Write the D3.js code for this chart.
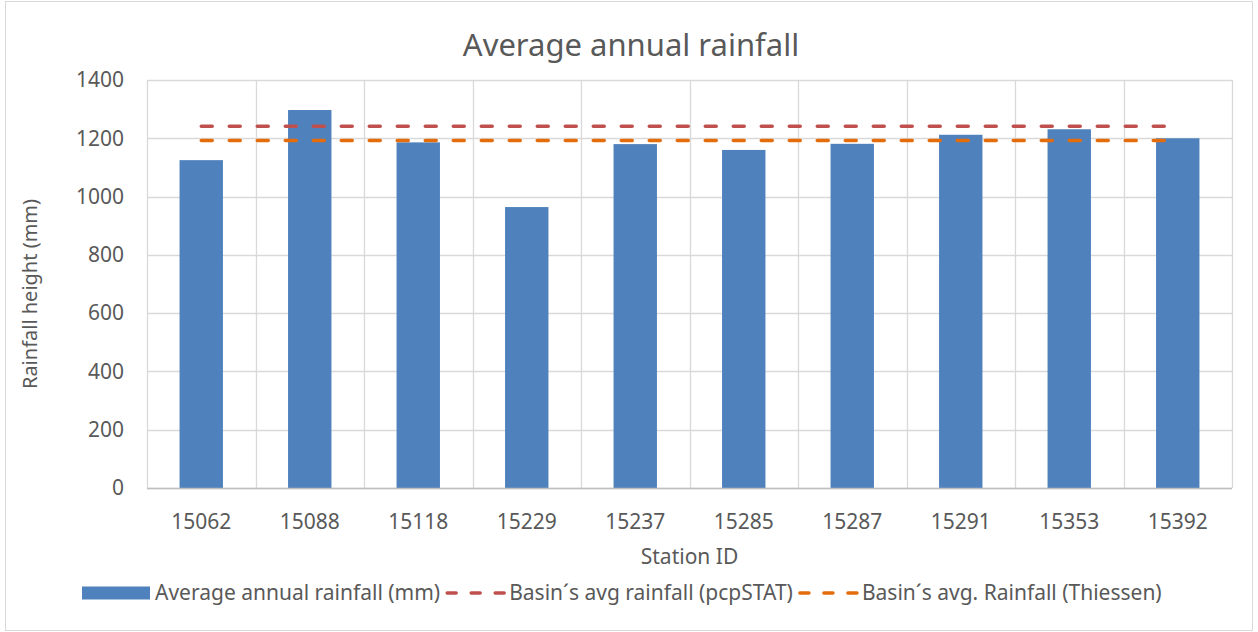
<!DOCTYPE html>
<html>
<head>
<meta charset="utf-8">
<script src="https://cdn.jsdelivr.net/npm/d3@7"></script>
<style>
  body { margin: 0; background: #fff; }
  text { font-family: "Noto Sans", sans-serif; fill: #595959; }
</style>
</head>
<body>
<div id="chart"></div>
<script>
// chart data
var stations = ["15062", "15088", "15118", "15229", "15237", "15285", "15287", "15291", "15353", "15392"];
var rainfall = [1125, 1297, 1186, 964, 1180, 1160, 1181, 1212, 1231, 1200];
var pcpStat = 1241;
var thiessen = 1192;
var yTicks = [0, 200, 400, 600, 800, 1000, 1200, 1400];
var seriesNames = ["Average annual rainfall (mm)", "Basin´s avg rainfall (pcpSTAT)", "Basin´s avg. Rainfall (Thiessen)"];

var svgWidth = 1258;
var svgHeight = 632;

var margin = { top: 80, right: 26, bottom: 144, left: 147 };
var width = svgWidth - margin.left - margin.right;
var height = svgHeight - margin.top - margin.bottom;

var colors = { bar: "#4F81BD", red: "#C0504D", orange: "#E46C0A", grid: "#D9D9D9" };

var svg = d3.select("#chart")
  .append("svg")
  .attr("width", svgWidth)
  .attr("height", svgHeight);

// outer chart border
svg.append("rect")
  .attr("x", 5.5).attr("y", 1.5)
  .attr("width", svgWidth - 11).attr("height", svgHeight - 3)
  .attr("fill", "#fff")
  .attr("stroke", colors.grid);

var chartGroup = svg.append("g")
  .attr("transform", `translate(${margin.left}, ${margin.top})`);

var x = d3.scaleBand()
  .domain(stations)
  .range([0, width])
  .paddingInner(0.6)
  .paddingOuter(0.3);

var y = d3.scaleLinear()
  .domain([0, 1400])
  .range([height, 0]);

// horizontal gridlines
chartGroup.append("g")
  .selectAll("line")
  .data(yTicks)
  .enter()
  .append("line")
  .attr("x1", 0).attr("x2", width)
  .attr("y1", d => Math.round(y(d)) + 0.5)
  .attr("y2", d => Math.round(y(d)) + 0.5)
  .attr("stroke", colors.grid)
  .attr("stroke-width", 1.3);

// vertical gridlines at category boundaries
var bounds = d3.range(stations.length + 1);
chartGroup.append("g")
  .selectAll("line")
  .data(bounds)
  .enter()
  .append("line")
  .attr("x1", d => Math.round(d * width / stations.length) + 0.5)
  .attr("x2", d => Math.round(d * width / stations.length) + 0.5)
  .attr("y1", 0).attr("y2", height)
  .attr("stroke", colors.grid)
  .attr("stroke-width", 1.3);

// bars
chartGroup.selectAll("rect.bar")
  .data(stations)
  .enter()
  .append("rect")
  .attr("class", "bar")
  .attr("x", d => x(d))
  .attr("width", x.bandwidth())
  .attr("y", (d, i) => y(rainfall[i]))
  .attr("height", (d, i) => height - y(rainfall[i]))
  .attr("fill", colors.bar);

// axis line
chartGroup.append("line")
  .attr("x1", 0).attr("x2", width)
  .attr("y1", height + 0.5).attr("y2", height + 0.5)
  .attr("stroke", "#BFBFBF")
  .attr("stroke-width", 1.3);

// basin average lines
var firstX = x(stations[0]) + x.bandwidth() / 2;
var lastX = x(stations[stations.length - 1]) + x.bandwidth() / 2;
[[pcpStat, colors.red], [thiessen, colors.orange]].forEach(function(s) {
  chartGroup.append("line")
    .attr("x1", firstX).attr("x2", lastX)
    .attr("y1", y(s[0])).attr("y2", y(s[0]))
    .attr("stroke", s[1])
    .attr("stroke-width", 3.5)
    .attr("stroke-linecap", "round")
    .attr("stroke-dasharray", "11,17");
});

// y tick labels
chartGroup.append("g")
  .selectAll("text")
  .data(yTicks)
  .enter()
  .append("text")
  .attr("x", -23)
  .attr("y", d => y(d))
  .attr("dy", "0.35em")
  .attr("text-anchor", "end")
  .style("font-size", "21px")
  .text(d => d);

// x tick labels
chartGroup.append("g")
  .selectAll("text")
  .data(stations)
  .enter()
  .append("text")
  .attr("x", d => x(d) + x.bandwidth() / 2)
  .attr("y", height + 41)
  .attr("text-anchor", "middle")
  .style("font-size", "21px")
  .text(d => d);

// title
svg.append("text")
  .attr("x", 631)
  .attr("y", 56)
  .attr("text-anchor", "middle")
  .style("font-size", "31px")
  .text("Average annual rainfall");

// axis titles
svg.append("text")
  .attr("transform", "translate(37, 294) rotate(-90)")
  .attr("text-anchor", "middle")
  .style("font-size", "20px")
  .text("Rainfall height (mm)");

svg.append("text")
  .attr("x", margin.left + width / 2)
  .attr("y", 564)
  .attr("text-anchor", "middle")
  .style("font-size", "21px")
  .text("Station ID");

// legend
var legend = svg.append("g").attr("transform", "translate(82, 593)");
var lx = 0;
seriesNames.forEach(function(name, i) {
  if (i === 0) {
    legend.append("rect")
      .attr("x", lx).attr("y", -6.5)
      .attr("width", 68).attr("height", 13)
      .attr("fill", colors.bar);
    lx += 73;
  } else {
    legend.append("line")
      .attr("x1", lx + 2).attr("x2", lx + 60)
      .attr("y1", 0).attr("y2", 0)
      .attr("stroke", i === 1 ? colors.red : colors.orange)
      .attr("stroke-width", 3.5)
      .attr("stroke-linecap", "round")
      .attr("stroke-dasharray", "9,15");
    lx += 64;
  }
  var t = legend.append("text")
    .attr("x", lx)
    .attr("y", 0)
    .attr("dy", "0.35em")
    .style("font-size", "21px")
    .text(name);
  lx += t.node().getComputedTextLength() + 5;
});
</script>
</body>
</html>
